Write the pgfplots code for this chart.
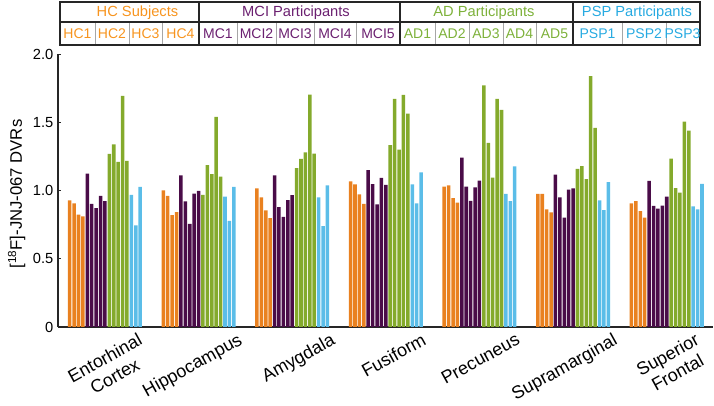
\documentclass[border=0pt]{standalone}
\usepackage{fontspec}
\setmainfont{Liberation Sans}
\usepackage{pgfplots}
\usepackage{pgfplotstable}
\pgfplotsset{compat=1.18}
\definecolor{hcbar}{RGB}{233,129,32}
\definecolor{mcibar}{RGB}{74,12,72}
\definecolor{adbar}{RGB}{132,170,44}
\definecolor{pspbar}{RGB}{91,189,232}
\definecolor{hctxt}{RGB}{247,148,30}
\definecolor{mcitxt}{RGB}{107,32,112}
\definecolor{adtxt}{RGB}{125,177,58}
\definecolor{psptxt}{RGB}{39,170,225}

\pgfplotstableread{
region HC1 HC2 HC3 HC4 MCI1 MCI2 MCI3 MCI4 MCI5 AD1 AD2 AD3 AD4 AD5 PSP1 PSP2 PSP3
Ent 0.927 0.905 0.824 0.810 1.124 0.902 0.871 0.961 0.922 1.268 1.337 1.210 1.693 1.217 0.968 0.744 1.027
Hip 1.000 0.961 0.820 0.841 1.110 0.920 0.756 0.978 0.998 0.968 1.185 1.120 1.539 1.102 0.956 0.778 1.027
Amy 1.015 0.949 0.854 0.798 1.110 0.878 0.807 0.929 0.966 1.163 1.232 1.280 1.702 1.271 0.949 0.739 1.037
Fus 1.066 1.044 0.971 0.902 1.149 1.046 0.898 1.093 1.041 1.332 1.671 1.300 1.700 1.563 1.044 0.905 1.132
Pre 1.029 1.037 0.944 0.912 1.241 1.029 0.924 1.022 1.073 1.771 1.349 1.095 1.671 1.590 0.976 0.922 1.176
Sup 0.976 0.976 0.861 0.839 1.117 0.949 0.802 1.007 1.015 1.159 1.178 1.083 1.838 1.459 0.927 0.856 1.061
SFr 0.905 0.922 0.849 0.802 1.071 0.888 0.868 0.890 0.956 1.234 1.017 0.985 1.505 1.439 0.883 0.861 1.049
}\data

\begin{document}
\begin{tikzpicture}
\useasboundingbox (-43.5pt,-59.25pt) rectangle (492pt,245.25pt);
\begin{axis}[
  scale only axis, width=491.25pt, height=204.75pt,
  xmin=-2.65, xmax=146, ymin=0, ymax=2,
  ybar, bar width=0.8, bar shift=0pt,
  axis x line*=bottom, axis y line*=left,
  axis line style={-, line width=1pt, black!85},
  ytick={0,0.5,1,1.5,2}, yticklabels={0,0.5,1.0,1.5,2.0},
  tick align=inside, major tick length=2.25pt,
  y tick style={black!85, line width=0.5pt},
  xtick={15.3,37.98,59.08,79.74,101.07,123.1,141.7},
  xticklabels={{Entorhinal\\Cortex},Hippocampus,Amygdala,Fusiform,Precuneus,Supramarginal,{Superior\\Frontal}},
  x tick style={draw=none},
  xticklabel style={yshift=-3.75pt, font=\fontsize{13.5}{15.5}\selectfont, align=center, rotate=29, anchor=north east, inner sep=0pt},
  yticklabel style={font=\fontsize{11}{13}\selectfont},
  /pgf/number format/assume math mode=true,
  every axis y label/.style={at={(axis description cs:-0.063,0.487)}, rotate=90, anchor=center, font=\fontsize{12.5}{14}\selectfont},
  ylabel={[\textsuperscript{18}F]-JNJ-067 DVRs},
]
\addplot[fill=hcbar, draw=none] table[x expr=\coordindex*21.25+0, y=HC1] {\data};
\addplot[fill=hcbar, draw=none] table[x expr=\coordindex*21.25+1, y=HC2] {\data};
\addplot[fill=hcbar, draw=none] table[x expr=\coordindex*21.25+2, y=HC3] {\data};
\addplot[fill=hcbar, draw=none] table[x expr=\coordindex*21.25+3, y=HC4] {\data};
\addplot[fill=mcibar, draw=none] table[x expr=\coordindex*21.25+4, y=MCI1] {\data};
\addplot[fill=mcibar, draw=none] table[x expr=\coordindex*21.25+5, y=MCI2] {\data};
\addplot[fill=mcibar, draw=none] table[x expr=\coordindex*21.25+6, y=MCI3] {\data};
\addplot[fill=mcibar, draw=none] table[x expr=\coordindex*21.25+7, y=MCI4] {\data};
\addplot[fill=mcibar, draw=none] table[x expr=\coordindex*21.25+8, y=MCI5] {\data};
\addplot[fill=adbar, draw=none] table[x expr=\coordindex*21.25+9, y=AD1] {\data};
\addplot[fill=adbar, draw=none] table[x expr=\coordindex*21.25+10, y=AD2] {\data};
\addplot[fill=adbar, draw=none] table[x expr=\coordindex*21.25+11, y=AD3] {\data};
\addplot[fill=adbar, draw=none] table[x expr=\coordindex*21.25+12, y=AD4] {\data};
\addplot[fill=adbar, draw=none] table[x expr=\coordindex*21.25+13, y=AD5] {\data};
\addplot[fill=pspbar, draw=none] table[x expr=\coordindex*21.25+14, y=PSP1] {\data};
\addplot[fill=pspbar, draw=none] table[x expr=\coordindex*21.25+15, y=PSP2] {\data};
\addplot[fill=pspbar, draw=none] table[x expr=\coordindex*21.25+16, y=PSP3] {\data};
\end{axis}
% header table, in reference pixel coordinates
\begin{scope}[xshift=-43.5pt, yshift=245.25pt, x=0.75pt, y=-0.75pt]
  \foreach \xx in {95,129,162,237,276,314,356,435,469,503,536,622,666}
    \draw[black!35, line width=0.5pt] (\xx,22) -- (\xx,45);
  \draw[black!85, line width=1.1pt] (60,2) rectangle (700,45);
  \draw[black!85, line width=1.1pt] (60,22) -- (700,22);
  \foreach \xx in {199,400,573}
    \draw[black!85, line width=1.1pt] (\xx,2) -- (\xx,45);
  \begin{scope}[every node/.style={font=\fontsize{11}{13}\selectfont, inner sep=0pt, anchor=base}]
  \node[text=hctxt] at (137.5,17) {HC Subjects};
  \node[text=mcitxt] at (296,17) {MCI Participants};
  \node[text=adtxt] at (484,17) {AD Participants};
  \node[text=psptxt] at (637,17) {PSP Participants};
  \end{scope}
  \begin{scope}[every node/.style={font=\fontsize{10.5}{12}\selectfont, inner sep=0pt, anchor=base}]
  \node[text=hctxt] at (77.5,39) {HC1};
  \node[text=hctxt] at (112,39) {HC2};
  \node[text=hctxt] at (145.5,39) {HC3};
  \node[text=hctxt] at (180.5,39) {HC4};
  \node[text=mcitxt] at (218,39) {MC1};
  \node[text=mcitxt] at (256.5,39) {MCI2};
  \node[text=mcitxt] at (295,39) {MCI3};
  \node[text=mcitxt] at (335,39) {MCI4};
  \node[text=mcitxt] at (378,39) {MCI5};
  \node[text=adtxt] at (417.5,39) {AD1};
  \node[text=adtxt] at (452,39) {AD2};
  \node[text=adtxt] at (486,39) {AD3};
  \node[text=adtxt] at (519.5,39) {AD4};
  \node[text=adtxt] at (554.5,39) {AD5};
  \node[text=psptxt] at (597.5,39) {PSP1};
  \node[text=psptxt] at (644,39) {PSP2};
  \node[text=psptxt] at (682.5,39) {PSP3};
  \end{scope}
\end{scope}
\end{tikzpicture}
\end{document}
